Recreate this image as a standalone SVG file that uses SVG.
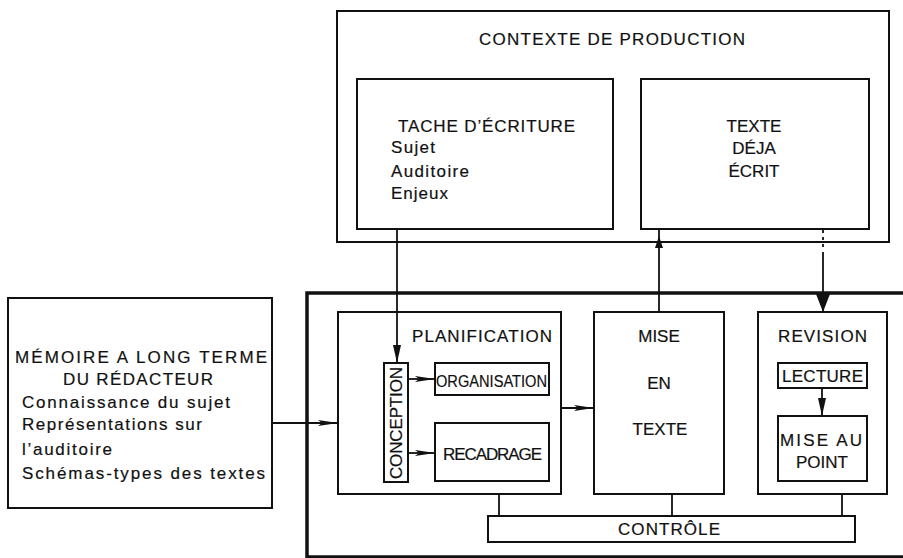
<svg xmlns="http://www.w3.org/2000/svg" width="903" height="558" viewBox="0 0 903 558">
<style>
  .box { fill: none; stroke: #111; stroke-width: 2; }
  .bold { fill: none; stroke: #111; stroke-width: 3.5; }
  .t { font-family: "Liberation Sans", Arial, sans-serif; fill: #111; stroke: #111; stroke-width: 0.2; font-size: 17px; }
  .c { text-anchor: middle; }
  .ln { stroke: #111; stroke-width: 1.8; fill: none; }
</style>
<defs>
  <marker id="ah" markerUnits="userSpaceOnUse" markerWidth="20" markerHeight="8" refX="20" refY="4" orient="auto">
    <path d="M0,1 L20,4 L0,7 L4,4 z" fill="#111"/>
  </marker>
  <marker id="av" markerUnits="userSpaceOnUse" markerWidth="18" markerHeight="10" refX="18" refY="5" orient="auto">
    <path d="M0,1 L18,5 L0,9 z" fill="#111"/>
  </marker>
  <marker id="big" markerUnits="userSpaceOnUse" markerWidth="18" markerHeight="14" refX="18" refY="7" orient="auto">
    <path d="M0,0 L18,7 L0,14 z" fill="#111"/>
  </marker>
  <marker id="small" markerUnits="userSpaceOnUse" markerWidth="12" markerHeight="8" refX="12" refY="4" orient="auto">
    <path d="M0,0 L12,4 L0,8 z" fill="#111"/>
  </marker>
</defs>
<rect width="903" height="558" fill="#fff"/>

<g id="contexte">
  <rect class="box" x="337" y="11" width="552" height="231"/>
  <text class="t" x="479" y="45" font-size="19" textLength="266">CONTEXTE DE PRODUCTION</text>
</g>
<g id="tache">
  <rect class="box" x="357" y="79" width="256" height="150"/>
  <text class="t" x="398" y="132" textLength="177">TACHE D’ÉCRITURE</text>
  <text class="t" x="391" y="153" textLength="44">Sujet</text>
  <text class="t" x="391" y="177" textLength="78">Auditoire</text>
  <text class="t" x="391" y="199" textLength="57">Enjeux</text>
</g>
<g id="texte-deja-ecrit">
  <rect class="box" x="641" y="79" width="228" height="150"/>
  <text class="t c" x="754" y="132">TEXTE</text>
  <text class="t c" x="754" y="154">DÉJA</text>
  <text class="t c" x="754" y="177">ÉCRIT</text>
</g>
<g id="memoire">
  <rect class="box" x="8" y="298" width="264" height="210"/>
  <text class="t" x="15" y="363" font-size="17.5" textLength="252">MÉMOIRE A LONG TERME</text>
  <text class="t" x="63" y="385" font-size="17.5" textLength="150">DU RÉDACTEUR</text>
  <text class="t" x="22" y="408" font-size="17.5" textLength="208">Connaissance du sujet</text>
  <text class="t" x="22" y="430" font-size="17.5" textLength="180">Représentations sur</text>
  <text class="t" x="22" y="455" font-size="17.5" textLength="90">l’auditoire</text>
  <text class="t" x="22" y="479" font-size="17.5" textLength="243">Schémas-types des textes</text>
</g>
<g id="processus">
  <rect class="bold" x="307" y="293" width="600" height="264"/>
</g>
<g id="planification">
  <rect class="box" x="338" y="312" width="223" height="182"/>
  <text class="t" x="412" y="342" textLength="140">PLANIFICATION</text>
</g>
<g id="conception">
  <rect class="box" x="384" y="363" width="24" height="119"/>
  <text class="t c" x="0" y="0" transform="translate(402 423) rotate(-90)" textLength="112">CONCEPTION</text>
</g>
<g id="organisation">
  <rect class="box" x="435" y="363" width="114" height="32"/>
  <text class="t" x="436" y="387" font-size="15" textLength="111" lengthAdjust="spacingAndGlyphs">ORGANISATION</text>
</g>
<g id="recadrage">
  <rect class="box" x="435" y="423" width="114" height="58"/>
  <text class="t" x="443" y="460" font-size="16" textLength="99">RECADRAGE</text>
</g>
<g id="mise-en-texte">
  <rect class="box" x="594" y="312" width="130" height="182"/>
  <text class="t c" x="659" y="342" font-size="18">MISE</text>
  <text class="t c" x="659" y="389" font-size="18">EN</text>
  <text class="t c" x="660" y="435" font-size="17.5">TEXTE</text>
</g>
<g id="revision">
  <rect class="box" x="758" y="312" width="129" height="182"/>
  <text class="t" x="778" y="342" font-size="18" textLength="89">REVISION</text>
</g>
<g id="lecture">
  <rect class="box" x="778" y="363" width="89" height="25"/>
  <text class="t" x="782" y="382" textLength="81">LECTURE</text>
</g>
<g id="mise-au-point">
  <rect class="box" x="778" y="416" width="89" height="65"/>
  <text class="t" x="780" y="446" font-size="18" textLength="82">MISE AU</text>
  <text class="t c" x="822" y="468" font-size="18">POINT</text>
</g>
<g id="controle">
  <rect class="box" x="488" y="516" width="367" height="26"/>
  <text class="t" x="618" y="535" font-size="18" textLength="102">CONTRÔLE</text>
</g>

<g id="connectors">
  <line class="ln" x1="397" y1="229" x2="397" y2="363" marker-end="url(#av)"/>
  <line class="ln" x1="659" y1="312" x2="659" y2="236" marker-end="url(#small)"/>
  <line class="ln" x1="659" y1="236" x2="659" y2="229"/>
  <line class="ln" x1="823" y1="230" x2="823" y2="250" stroke-dasharray="3 4"/>
  <line class="ln" x1="823" y1="252" x2="823" y2="312" marker-end="url(#big)"/>
  <line class="ln" x1="272" y1="423" x2="338" y2="423" marker-end="url(#ah)"/>
  <line class="ln" x1="408" y1="379" x2="435" y2="379" marker-end="url(#ah)"/>
  <line class="ln" x1="408" y1="453" x2="435" y2="453" marker-end="url(#ah)"/>
  <line class="ln" x1="561" y1="408" x2="594" y2="408" marker-end="url(#ah)"/>
  <line class="ln" x1="822" y1="388" x2="822" y2="416" marker-end="url(#av)"/>
  <line class="ln" x1="499" y1="494" x2="499" y2="516"/>
  <line class="ln" x1="672" y1="494" x2="672" y2="516"/>
  <line class="ln" x1="842" y1="494" x2="842" y2="516"/>
</g>
</svg>
